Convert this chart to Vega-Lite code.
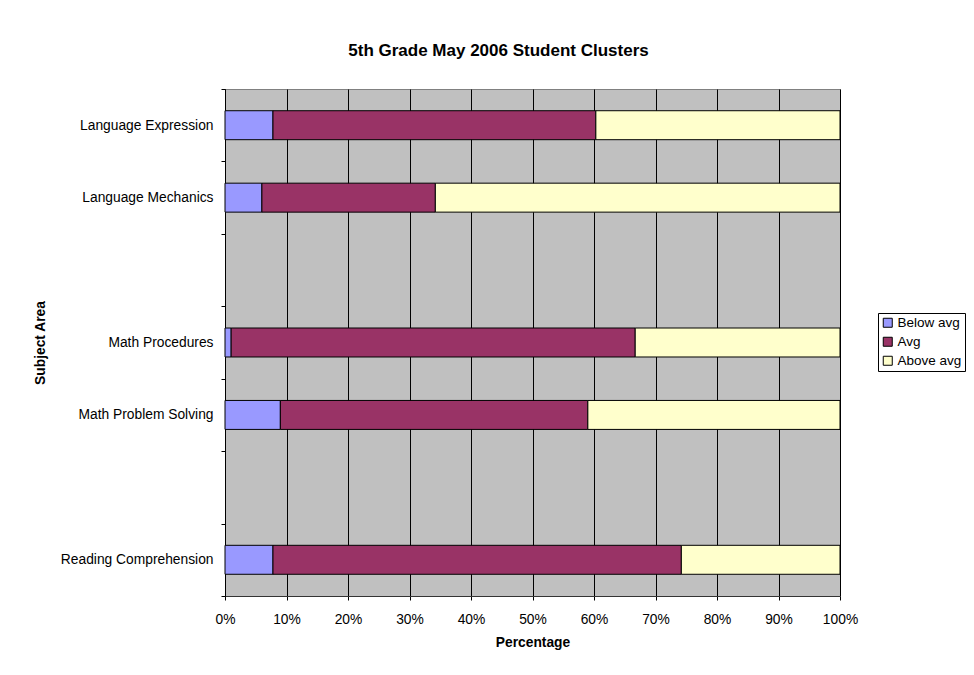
{
  "$schema": "https://vega.github.io/schema/vega-lite/v6.json",
  "width": 615,
  "height": 507,
  "autosize": "none",
  "padding": {"left": 225, "top": 89, "right": 134, "bottom": 79},
  "background": "white",
  "config": {
    "font": "Liberation Sans",
    "view": {"fill": "#C0C0C0", "stroke": "#808080", "strokeWidth": 1}
  },
  "title": {
    "text": "5th Grade May 2006 Student Clusters",
    "fontSize": 17,
    "font": "Liberation Sans",
    "fontWeight": "bold",
    "color": "black",
    "offset": 22,
    "dx": -34,
    "anchor": "middle"
  },
  "data": {
    "values": [
      {"subject": "Language Expression", "level": "Below avg", "k": 1, "pct": 7.8},
      {"subject": "Language Expression", "level": "Avg", "k": 2, "pct": 52.5},
      {"subject": "Language Expression", "level": "Above avg", "k": 3, "pct": 39.7},
      {"subject": "Language Mechanics", "level": "Below avg", "k": 1, "pct": 6.0},
      {"subject": "Language Mechanics", "level": "Avg", "k": 2, "pct": 28.2},
      {"subject": "Language Mechanics", "level": "Above avg", "k": 3, "pct": 65.8},
      {"subject": "Math Procedures", "level": "Below avg", "k": 1, "pct": 1.0},
      {"subject": "Math Procedures", "level": "Avg", "k": 2, "pct": 65.7},
      {"subject": "Math Procedures", "level": "Above avg", "k": 3, "pct": 33.3},
      {"subject": "Math Problem Solving", "level": "Below avg", "k": 1, "pct": 9.0},
      {"subject": "Math Problem Solving", "level": "Avg", "k": 2, "pct": 50.0},
      {"subject": "Math Problem Solving", "level": "Above avg", "k": 3, "pct": 41.0},
      {"subject": "Reading Comprehension", "level": "Below avg", "k": 1, "pct": 7.8},
      {"subject": "Reading Comprehension", "level": "Avg", "k": 2, "pct": 66.4},
      {"subject": "Reading Comprehension", "level": "Above avg", "k": 3, "pct": 25.8}
    ]
  },
  "mark": {"type": "bar", "stroke": "black", "strokeWidth": 1, "height": {"band": 0.4}},
  "encoding": {
    "y": {
      "field": "subject",
      "type": "nominal",
      "scale": {
        "domain": ["Language Expression", "Language Mechanics", " ", "Math Procedures", "Math Problem Solving", "  ", "Reading Comprehension"],
        "paddingInner": 0,
        "paddingOuter": 0
      },
      "axis": {
        "title": "Subject Area",
        "titleFontSize": 13.8,
        "titleFontWeight": "bold",
        "titleColor": "black",
        "titlePadding": 13,
        "tickBand": "extent",
        "grid": false,
        "ticks": true,
        "tickSize": 4,
        "tickColor": "black",
        "domain": true,
        "domainColor": "black",
        "labelFontSize": 13.8,
        "labelColor": "black",
        "labelPadding": 8,
        "labelLimit": 300
      }
    },
    "x": {
      "field": "pct",
      "type": "quantitative",
      "stack": "zero",
      "scale": {"domain": [0, 100], "nice": false},
      "axis": {
        "title": "Percentage",
        "titleFontSize": 13.8,
        "titleFontWeight": "bold",
        "titleColor": "black",
        "titlePadding": 10,
        "values": [0, 10, 20, 30, 40, 50, 60, 70, 80, 90, 100],
        "labelExpr": "datum.value + '%'",
        "labelFontSize": 13.8,
        "labelColor": "black",
        "labelPadding": 12,
        "labelFlush": false,
        "tickSize": 4,
        "tickColor": "black",
        "domainColor": "#333333",
        "grid": true,
        "gridColor": "black",
        "gridOpacity": 1,
        "gridWidth": 1
      }
    },
    "color": {
      "field": "level",
      "type": "nominal",
      "scale": {"domain": ["Below avg", "Avg", "Above avg"], "range": ["#9999FF", "#993366", "#FFFFCC"]},
      "legend": {
        "title": null,
        "orient": "none",
        "legendX": 653,
        "legendY": 224,
        "symbolType": "square",
        "symbolSize": 81,
        "symbolStrokeColor": "black",
        "symbolStrokeWidth": 1,
        "strokeColor": "black",
        "fillColor": "white",
        "padding": 3,
        "labelFontSize": 13.5,
        "labelColor": "black",
        "labelOffset": 3,
        "rowPadding": 4
      }
    },
    "order": {"field": "k", "type": "quantitative"}
  }
}
